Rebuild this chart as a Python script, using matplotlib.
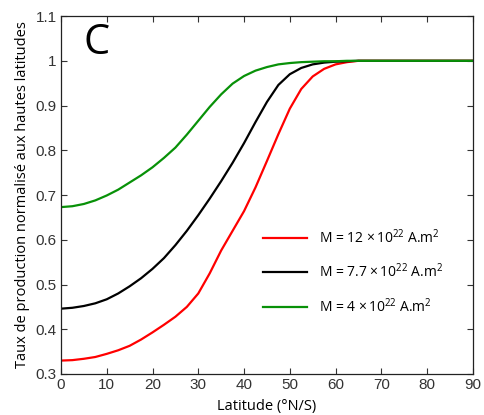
import matplotlib
matplotlib.use("Agg")
import matplotlib.pyplot as plt

lat = [0, 2.5, 5, 7.5, 10, 12.5, 15, 17.5, 20, 22.5, 25, 27.5, 30, 32.5, 35,
       37.5, 40, 42.5, 45, 47.5, 50, 52.5, 55, 57.5, 60, 62.5, 65, 70, 75, 80,
       85, 90]
m12 = [0.330, 0.331, 0.334, 0.338, 0.345, 0.353, 0.363, 0.377, 0.393, 0.410,
       0.428, 0.450, 0.480, 0.525, 0.576, 0.620, 0.664, 0.717, 0.776, 0.836,
       0.893, 0.937, 0.965, 0.982, 0.992, 0.997, 1.000, 1.000, 1.000, 1.000,
       1.000, 1.000]
m77 = [0.446, 0.448, 0.452, 0.458, 0.467, 0.480, 0.496, 0.514, 0.535, 0.559,
       0.588, 0.620, 0.655, 0.692, 0.731, 0.772, 0.816, 0.863, 0.908, 0.946,
       0.970, 0.984, 0.992, 0.996, 0.998, 0.999, 1.000, 1.000, 1.000, 1.000,
       1.000, 1.000]
m4 = [0.673, 0.675, 0.680, 0.688, 0.699, 0.712, 0.728, 0.744, 0.762, 0.783,
      0.806, 0.835, 0.866, 0.897, 0.925, 0.949, 0.966, 0.978, 0.986, 0.992,
      0.995, 0.997, 0.998, 0.999, 0.999, 1.000, 1.000, 1.000, 1.000, 1.000,
      1.000, 1.000]
labels = [r"M = 12 $\times\,10^{22}$ A.m$^{2}$",
          r"M = 7.7 $\times\,10^{22}$ A.m$^{2}$",
          r"M = 4 $\times\,10^{22}$ A.m$^{2}$"]
colors = ["#ff0000", "#000000", "#089108"]

plt.rcParams['font.family'] = ['Liberation Sans', 'DejaVu Sans']
plt.rcParams['mathtext.fontset'] = 'custom'
plt.rcParams['mathtext.rm'] = 'Open Sans'
plt.rcParams['mathtext.it'] = 'Open Sans'

fig = plt.figure(figsize=(4.84, 4.15), dpi=100)
ax = fig.add_axes([0.126, 0.0988, 0.851, 0.8625])

for y, c, l in zip([m12, m77, m4], colors, labels):
    ax.plot(lat, y, color=c, lw=1.6, label=l, solid_joinstyle='round')

ax.set_xlim(0, 90)
ax.set_ylim(0.3, 1.1)
ax.set_xticks(range(0, 91, 10))
ax.set_yticks([0.3, 0.4, 0.5, 0.6, 0.7, 0.8, 0.9, 1.0, 1.1])
ax.set_yticklabels(["0.3", "0.4", "0.5", "0.6", "0.7", "0.8", "0.9", "1", "1.1"])
ax.tick_params(direction='in', top=True, right=True, length=4, width=0.8,
               labelsize=11, colors='#333333', labelcolor='#333333', pad=3)
for s in ax.spines.values():
    s.set_linewidth(0.9)
    s.set_color('#222222')

ax.set_xlabel("Latitude (°N/S)", family='Open Sans', fontsize=10.5, labelpad=5)
ax.set_ylabel("Taux de production normalisé aux hautes latitudes",
              family='Open Sans', fontsize=10.5, labelpad=4)
ax.text(0.055, 0.925, "C", transform=ax.transAxes, fontsize=30,
        family='Open Sans', va='center', ha='left')

leg = ax.legend(loc='center left', bbox_to_anchor=(0.46, 0.285), frameon=False,
                prop={'family': 'Open Sans', 'size': 10}, handlelength=3.2,
                handletextpad=0.8, labelspacing=1.15)

fig.savefig("out.png", dpi=100)
